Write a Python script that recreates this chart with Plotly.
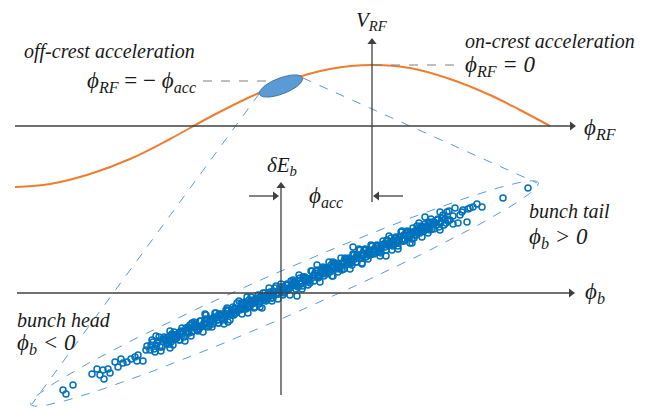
import numpy as np
import plotly.graph_objects as go

# ---------------- data (diagram units = pixels, y downward) ----------------
# RF voltage curve
rf_x = [15, 50, 90, 130, 170, 210, 250, 281, 290, 330, 372, 410, 450, 490, 520, 550]
rf_y = [187, 184, 174, 159, 139, 117, 97, 84, 80, 69, 65, 68, 79, 95, 110, 126]

# bunch particles (phi_b, dE_b)
band_a_x = list(range(150, 450, 3))
band_a_y = [350, 342, 345, 337, 347, 340, 337, 342, 332, 337,
            340, 332, 328, 333, 323, 328, 331, 321, 323, 324,
            319, 324, 313, 323, 315, 317, 310, 312, 315, 303,
            310, 304, 309, 300, 304, 307, 295, 299, 300, 295,
            292, 298, 286, 293, 290, 292, 285, 281, 285, 286,
            278, 286, 278, 280, 271, 275, 278, 270, 276, 268,
            270, 262, 269, 264, 270, 258, 263, 260, 255, 262,
            250, 255, 257, 250, 246, 252, 248, 253, 244, 240,
            245, 246, 237, 240, 231, 240, 235, 232, 238, 226,
            233, 227, 229, 222, 229, 223, 219, 222, 225, 212]
band_b_x = list(range(151, 451, 3))
band_b_y = [345, 349, 343, 347, 339, 341, 344, 334, 339, 334,
            331, 337, 331, 325, 331, 325, 329, 326, 319, 327,
            321, 317, 320, 316, 320, 310, 314, 315, 308, 309,
            303, 309, 304, 306, 300, 301, 304, 297, 293, 297,
            298, 292, 294, 287, 295, 285, 288, 286, 282, 287,
            284, 277, 279, 283, 276, 271, 276, 274, 269, 273,
            265, 268, 264, 269, 264, 265, 258, 265, 259, 256,
            258, 250, 253, 255, 252, 246, 252, 245, 247, 244,
            238, 240, 243, 237, 241, 233, 236, 239, 231, 233,
            226, 231, 227, 230, 222, 225, 227, 218, 219, 221]
band_c_x = list(range(170, 446, 6))
band_c_y = [340, 336, 334, 333, 327, 327, 323, 320, 320, 314,
            314, 309, 308, 307, 301, 301, 297, 294, 294, 288,
            288, 283, 282, 281, 275, 275, 271, 268, 268, 262,
            262, 257, 256, 255, 249, 249, 245, 242, 242, 235,
            236, 231, 230, 229, 222, 223]
band_d_x = list(range(152, 452, 3))
band_d_y = [340, 352, 341, 351, 337, 344, 331, 345, 335, 340,
            328, 341, 327, 336, 322, 330, 321, 332, 315, 326,
            327, 313, 323, 314, 324, 308, 320, 307, 313, 301,
            314, 302, 313, 297, 308, 298, 307, 293, 301, 288,
            301, 288, 299, 284, 293, 284, 295, 280, 289, 275,
            289, 277, 285, 271, 281, 270, 282, 267, 274, 262,
            276, 263, 272, 258, 269, 259, 269, 254, 262, 249,
            263, 249, 259, 245, 254, 245, 256, 241, 250, 236,
            250, 238, 246, 232, 241, 231, 243, 228, 235, 223,
            237, 224, 233, 219, 229, 220, 230, 215, 223, 211]
band_e_x = list(range(165, 435, 3))
band_e_y = [339, 341, 335, 338, 338, 332, 333, 333, 329, 332,
            324, 326, 327, 324, 320, 324, 319, 318, 314, 318,
            315, 311, 315, 309, 311, 308, 303, 306, 307, 301,
            303, 299, 296, 297, 299, 296, 291, 294, 290, 287,
            288, 290, 287, 282, 285, 281, 277, 279, 281, 278,
            273, 276, 272, 268, 270, 272, 268, 264, 267, 263,
            259, 261, 263, 259, 255, 258, 253, 250, 252, 254,
            250, 246, 249, 244, 241, 243, 244, 241, 237, 239,
            235, 232, 234, 235, 232, 228, 230, 226, 223, 224]
head_x = [63, 66, 73, 92, 97, 100, 104, 103, 108, 110, 115, 118, 121, 123,
          127, 131, 135, 137, 143, 138, 146, 147]
head_y = [390, 394, 385, 374, 369, 375, 379, 370, 369, 373, 362, 367, 359, 363,
          362, 359, 357, 361, 361, 355, 350, 346]
tail_x = [528, 503, 477, 482, 473, 468, 463, 462, 467, 455, 458, 453, 453,
          450, 470, 448, 460]
tail_y = [188, 198, 204, 207, 207, 209, 210, 212, 222, 208, 223, 216, 224,
          220, 208, 220, 215]
out_x = [156, 170, 205, 228, 247, 262, 297, 317, 333, 353, 362, 386, 398,
         412, 425, 440]
out_y = [336, 348, 314, 322, 297, 308, 296, 265, 276, 247, 264, 256, 249,
         243, 217, 212]

# ---------------- styles ----------------
AX = "#404040"
ORANGE = "#ED7D31"
DOT = "#0072BD"
LBLUE = "#5B9BD5"
SERIF = "Liberation Serif"

fig = go.Figure()


def line(xs, ys, color, width=1.0, dash=None):
    fig.add_trace(go.Scatter(x=xs, y=ys, mode="lines", hoverinfo="skip",
                             line=dict(color=color, width=width, dash=dash)))


def ellipse(cx, cy, a, b, ang_deg, n=200):
    t = np.linspace(0, 2 * np.pi, n)
    ang = np.deg2rad(ang_deg)
    x = cx + a * np.cos(t) * np.cos(ang) - b * np.sin(t) * np.sin(ang)
    y = cy - (a * np.cos(t) * np.sin(ang) + b * np.sin(t) * np.cos(ang))
    return x, y


# RF curve
fig.add_trace(go.Scatter(x=rf_x, y=rf_y, mode="lines", hoverinfo="skip",
                         line=dict(color=ORANGE, width=2, shape="spline")))

# gray dashed reference lines
line([203, 266], [81, 81], "#7f7f7f", 1, "dash")
line([373, 458], [65, 65], "#7f7f7f", 1, "dash")

# blue dashed projection lines
line([259, 32], [94, 404], LBLUE, 1, "dash")
line([303, 537], [78, 183], LBLUE, 1, "dash")

# big dashed ellipse around bunch
ex, ey = ellipse(284.5, 293.5, 277, 22, 23.6)
line(ex, ey, LBLUE, 1, "dash")

# particles
px = band_a_x + band_b_x + band_c_x + band_d_x + band_e_x + head_x + tail_x + out_x
py = band_a_y + band_b_y + band_c_y + band_d_y + band_e_y + head_y + tail_y + out_y
fig.add_trace(go.Scatter(x=px, y=py, mode="markers", hoverinfo="skip",
                         marker=dict(symbol="circle-open", size=6, color=DOT,
                                     line=dict(width=1.5, color=DOT))))

# small filled bunch ellipse on the RF curve
sx, sy = ellipse(281, 86, 23, 8, 21)
fig.add_trace(go.Scatter(x=sx, y=sy, mode="lines", fill="toself",
                         fillcolor=LBLUE, hoverinfo="skip",
                         line=dict(color="#41719C", width=1)))

# axes: line segments plus triangular arrow heads
axes_lines = [
    ((15, 126), (572, 126), "triangle-right"),
    ((372, 202), (372, 42), "triangle-up"),
    ((17, 293), (571, 293), "triangle-right"),
    ((281, 395), (281, 186), "triangle-up"),
    ((249, 196), (275, 196), "triangle-right"),
    ((403, 196), (377, 196), "triangle-left"),
]
for (x0, y0), (x1, y1), sym in axes_lines:
    line([x0, x1], [y0, y1], AX, 1.3)
    fig.add_trace(go.Scatter(x=[x1], y=[y1], mode="markers", hoverinfo="skip",
                             marker=dict(symbol=sym, size=8, color=AX,
                                         line=dict(width=0))))


def label(x, y, text, size, xanchor="center"):
    fig.add_annotation(x=x, y=y, xref="x", yref="y", text=text,
                       showarrow=False, xanchor=xanchor, yanchor="middle",
                       font=dict(family=SERIF, size=size, color="#1a1a1a"))


label(22, 51, "<i>off-crest acceleration</i>", 20, "left")
label(198, 82, "<i>ϕ<sub>RF</sub></i> = − <i>ϕ<sub>acc</sub></i>", 23, "right")
label(372, 21, "<i>V<sub>RF</sub></i>", 21)
label(463, 41, "<i>on-crest acceleration</i>", 20, "left")
label(463, 66, "<i>ϕ<sub>RF</sub> = 0</i>", 23, "left")
label(582, 129, "<i>ϕ<sub>RF</sub></i>", 23, "left")
label(282, 166, "<i>δE<sub>b</sub></i>", 21)
label(326, 197, "<i>ϕ<sub>acc</sub></i>", 23)
label(527, 211, "<i>bunch tail</i>", 20, "left")
label(527, 238, "<i>ϕ<sub>b</sub> &gt; 0</i>", 23, "left")
label(583, 293, "<i>ϕ<sub>b</sub></i>", 23, "left")
label(15, 320, "<i>bunch head</i>", 20, "left")
label(15, 344, "<i>ϕ<sub>b</sub> &lt; 0</i>", 23, "left")

fig.update_layout(
    width=653, height=410, margin=dict(l=0, r=0, t=0, b=0),
    paper_bgcolor="white", plot_bgcolor="white", showlegend=False,
    xaxis=dict(range=[0, 653], visible=False, fixedrange=True),
    yaxis=dict(range=[410, 0], visible=False, fixedrange=True),
)

fig.write_html("out.html", config={"displayModeBar": False},
               post_script="document.body.style.margin='0';")
